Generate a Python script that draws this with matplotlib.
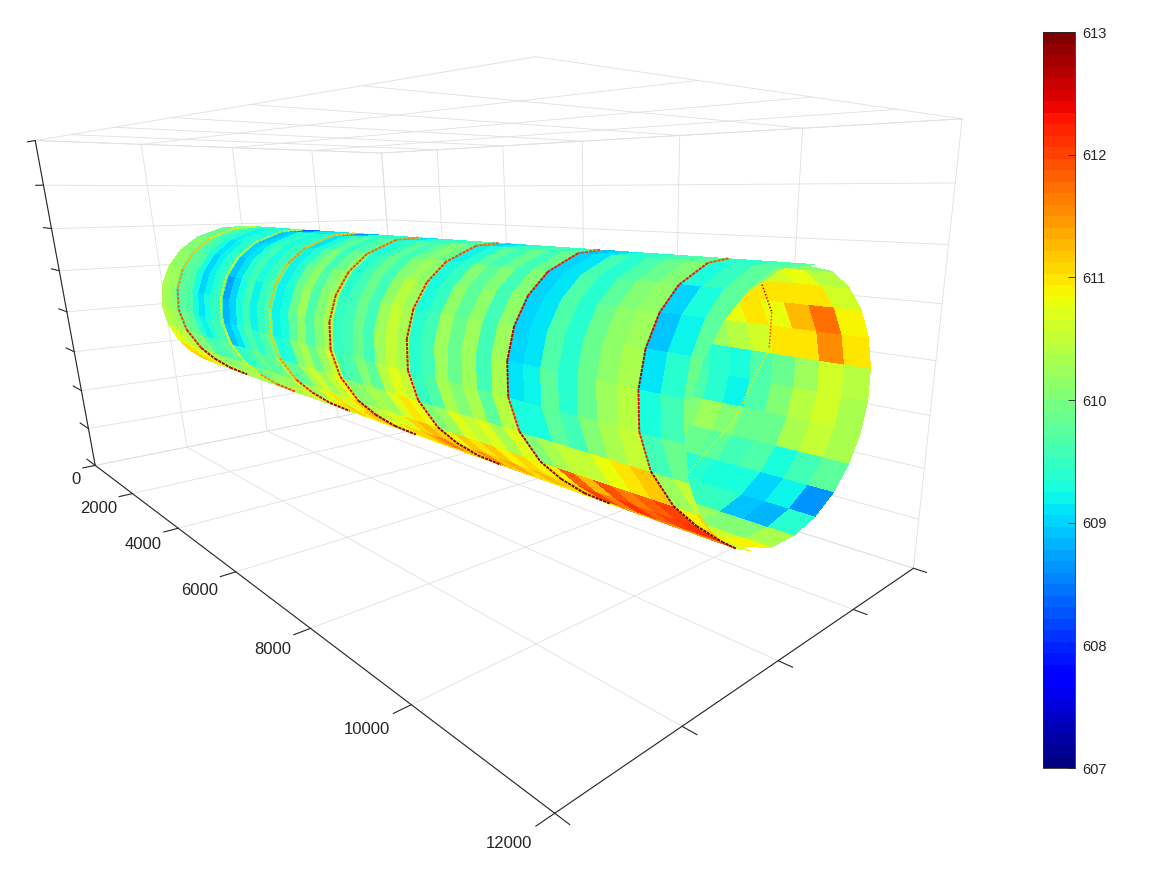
import numpy as np
import matplotlib
matplotlib.use('Agg')
import matplotlib.pyplot as plt
from matplotlib.cm import ScalarMappable
from matplotlib.colors import Normalize

W, H = 1156, 875
plt.rcParams['font.family'] = ['Liberation Sans', 'DejaVu Sans']

# axis ranges and ticks
x_ticks = [0, 2000, 4000, 6000, 8000, 10000, 12000]
y_ticks = [-4000, -2000, 0, 2000, 4000]
z_ticks = [-4000, -3000, -2000, -1000, 0, 1000, 2000, 3000, 4000]
cbar_ticks = [607, 608, 609, 610, 611, 612, 613]

# cylinder
radius = 1985
y_center = -80
z_center = -40

# outer face: rows are angles (deg), columns follow the helix (s = x - shift)
outer_theta = [80, 100, 120, 135, 150, 165, 180, 195, 210, 220, 230, 240, 250]
helix_shift = [-380, -300, -230, -180, -120, -60, 0, 90, 220, 360, 500, 650, 800]
s_edges = list(range(-500, 12501, 250))
outer_values = [
 [609.9,609.9,609.9,609.8,609.8, 609.6,609.5,609.4,609.4,609.3,609.4,609.4,609.3, 608.4,608.6,609.0,609.2,609.1,609.2,609.3, 608.6,608.9,609.3,609.5,609.4,609.5,609.5, 609.1,609.3,609.5,609.4,609.6,609.7,609.7, 609.0,609.2,609.5,609.5,609.7,609.5,609.7, 608.9,609.1,609.4,609.4,609.6,609.7,609.8, 609.4,609.5,609.7,609.8],
 [609.9,610.0,610.0,609.9,609.9, 609.7,609.6,609.5,609.4,609.2,609.3,609.4,609.3, 608.9,609.0,609.3,609.5,609.3,609.4,609.5, 609.1,609.3,609.6,609.8,609.5,609.7,609.8, 609.3,609.5,609.8,609.6,609.9,610.0,609.9, 609.2,609.4,609.8,609.6,609.9,609.6,609.9, 609.0,609.1,609.6,609.4,609.7,609.9,610.0, 609.3,609.5,609.8,610.0],
 [610.0,610.1,610.1,610.0,610.0, 609.8,609.7,609.6,609.3,609.1,609.2,609.4,609.4, 609.0,609.1,609.4,609.6,609.3,609.5,609.6, 609.2,609.4,609.8,610.0,609.6,609.9,610.1, 609.4,609.6,609.9,609.6,610.0,610.2,610.1, 609.3,609.5,610.0,609.8,610.0,609.6,610.0, 609.0,609.1,609.7,609.4,609.8,610.0,610.1, 609.0,609.3,609.8,610.0],
 [610.1,610.2,610.2,610.1,610.1, 609.8,609.8,609.7,609.3,609.0,609.2,609.4,609.5, 608.9,609.1,609.4,609.6,609.3,609.5,609.7, 609.2,609.4,609.9,610.1,609.7,610.0,610.2, 609.4,609.6,609.9,609.6,610.1,610.4,610.2, 609.3,609.5,610.1,609.8,610.1,609.6,610.1, 609.0,609.1,609.7,609.4,609.9,610.1,610.2, 608.9,609.2,609.8,610.0],
 [610.2,610.3,610.3,610.2,610.2, 609.8,609.8,609.7,609.3,609.0,609.2,609.4,609.5, 608.7,609.0,609.3,609.6,609.2,609.5,609.7, 609.2,609.3,609.9,610.2,609.7,610.0,610.3, 609.5,609.6,609.9,609.6,610.2,610.5,610.3, 609.4,609.6,610.2,609.9,610.2,609.6,610.2, 609.0,609.1,609.7,609.4,609.9,610.1,610.3, 609.1,609.4,609.9,610.1],
 [610.2,610.3,610.3,610.2,610.1, 609.7,609.8,609.7,609.3,609.1,609.3,609.5,609.4, 608.8,609.0,609.3,609.6,609.2,609.5,609.7, 609.2,609.3,609.8,610.1,609.7,610.0,610.3, 609.5,609.6,609.9,609.6,610.2,610.5,610.3, 609.4,609.6,610.2,609.9,610.2,609.6,610.3, 609.1,609.2,609.8,609.4,609.9,610.2,610.4, 609.3,609.6,610.0,610.2],
 [610.3,610.4,610.4,610.3,610.2, 609.9,609.9,609.8,609.4,609.2,609.4,609.6,609.6, 608.9,609.1,609.4,609.7,609.4,609.7,609.9, 609.3,609.4,610.0,610.3,609.9,610.2,610.6, 609.6,609.7,610.0,609.8,610.4,610.7,610.5, 609.5,609.7,610.3,610.0,610.3,609.8,610.4, 609.3,609.3,609.8,609.6,610.0,610.3,610.5, 609.6,609.9,610.2,610.3],
 [610.6,610.8,610.7,610.5,610.4, 610.0,610.0,610.0,609.7,609.6,609.7,609.8,609.9, 609.4,609.5,609.7,609.9,609.7,609.9,610.2, 609.8,609.9,610.3,610.6,610.2,610.5,610.8, 610.0,610.1,610.3,610.2,610.7,611.0,610.8, 610.0,610.2,610.7,610.5,610.7,610.3,610.7, 610.0,610.3,610.5,610.5,610.8,611.0,611.2, 610.2,610.5,610.7,610.7],
 [610.9,611.1,611.0,610.8,610.6, 610.3,610.3,610.3,610.1,610.0,610.1,610.2,610.2, 609.8,609.9,610.1,610.2,610.1,610.3,610.5, 610.2,610.3,610.7,611.0,610.6,610.9,611.2, 610.4,610.5,610.7,610.7,611.1,611.3,611.1, 610.8,611.2,611.0,611.2,610.9,611.1,610.9, 610.9,611.8,611.3,611.9,611.6,611.8,612.0, 610.9,611.1,611.1,610.9],
 [611.0,611.2,611.1,610.9,610.6, 610.3,610.4,610.4,610.3,610.2,610.3,610.4,610.3, 610.1,610.1,610.3,610.4,610.4,610.6,610.8, 610.5,610.6,611.0,611.2,610.9,611.2,611.4, 610.7,610.8,611.1,611.1,611.4,611.6,611.3, 611.1,611.5,611.2,611.4,611.1,611.3,611.1, 611.2,612.0,611.6,612.1,611.8,612.0,612.1, 611.2,611.3,611.2,611.0],
 [610.6,610.8,610.7,610.6,610.4, 610.2,610.2,610.3,610.2,610.2,610.2,610.3,610.3, 610.2,610.2,610.3,610.3,610.4,610.5,610.6, 610.5,610.6,610.9,611.0,610.8,611.0,611.1, 610.7,610.8,611.0,611.0,611.1,611.2,611.0, 611.0,611.3,611.0,611.1,610.9,611.0,610.9, 610.9,611.5,611.2,611.6,611.4,611.5,611.6, 611.1,611.1,611.0,610.8],
 [610.2,610.2,610.2,610.1,610.1, 610.0,610.0,610.0,610.0,610.0,610.0,610.0,610.0, 610.0,610.0,610.0,610.0,610.0,610.1,610.1, 610.1,610.1,610.2,610.2,610.1,610.2,610.2, 610.1,610.2,610.2,610.2,610.2,610.3,610.2, 610.2,610.3,610.2,610.3,610.2,610.2,610.2, 610.3,610.5,610.4,610.5,610.5,610.6,610.7, 610.6,610.5,610.3,610.1],
]

# inner face seen through the open end
inner_theta = [-125, -97.5, -82.5, -67.5, -52.5, -37.5, -22.5, -7.5, 7.5, 22.5, 37.5, 52.5, 67.5, 90]
inner_x = [9600, 9900, 10200, 10500, 10800, 11100, 11400, 11700, 12000]
inner_values = [
 [610.5,610.5,610.5,610.5,610.6,610.6,610.6,610.9],
 [610.1,610.1,610.1,610.1,610.2,610.0,610.0,610.3],
 [609.5,609.5,609.5,609.5,609.5,608.9,608.8,609.4],
 [609.4,609.4,609.4,609.3,609.3,609.0,609.2,608.6],
 [609.9,609.9,609.8,609.6,609.7,609.3,609.6,609.8],
 [610.0,610.2,610.0,609.9,609.9,610.3,610.5,610.3],
 [609.7,609.4,609.2,609.7,610.0,610.4,610.6,610.3],
 [609.6,609.4,609.3,609.7,609.9,610.2,610.6,610.4],
 [610.0,610.2,610.4,610.6,611.0,611.0,611.5,611.0],
 [610.6,610.6,610.8,611.0,610.8,611.3,611.7,610.9],
 [610.6,610.6,610.8,611.0,611.0,611.0,611.0,610.6],
 [610.4,610.4,610.5,610.6,610.6,610.6,610.8,610.4],
 [610.0,610.0,610.0,610.1,610.1,610.2,610.3,610.1],
]

# seams on the outer face (x where they cross 180 deg, colour value at each knot)
seam_x = [800, 2650, 4400, 6150, 7950, 9750, 11500]
seam_theta = [85, 100, 120, 135, 150, 165, 180, 195, 210, 220, 230, 240]
seam_shift = [-360, -300, -230, -180, -120, -60, 0, 90, 220, 360, 500, 650]
seam_levels = [
 [610.8,611.0,611.2,611.3,611.5,611.8,612.0,612.3,612.6,612.8,612.8,612.5],
 [610.5,610.5,610.6,610.6,610.6,610.7,610.7,610.8,611.0,611.5,612.0,612.0],
 [611.2,611.3,611.5,611.3,611.3,611.1,611.2,611.5,612.2,612.6,612.8,612.5],
 [611.6,611.8,612.0,612.2,612.3,612.5,612.3,612.4,612.8,612.9,612.9,612.5],
 [611.8,612.0,612.2,612.3,612.5,612.5,612.4,612.5,612.9,612.9,612.9,612.5],
 [612.0,612.3,612.4,612.5,612.7,612.7,612.3,612.7,612.9,613.0,613.0,612.7],
 [612.0,612.3,612.4,612.5,612.7,612.4,612.3,612.8,613.0,613.0,613.0,612.9],
]
# last seam where it runs on over the inner face
inner_seam_theta = [85, 60, 30, 10, -30, -70]
inner_seam_x = [11100, 11050, 10880, 10750, 10430, 10300]
inner_seam_levels = [612.6, 612.6, 612.0, 611.0, 610.6]

norm = Normalize(607, 613)
cmap = plt.get_cmap('jet', 64)

# camera: solved from where the box corners lie in the picture
corners = np.array([[0,-4,-4],[12,-4,-4],[12,4,-4],[0,-4,4],[12,-4,4],[12,4,4],[0,4,4]],float)
corner_px = np.array([[95,465],[556,813],[913,569],[35,141],[535,57],[962,118],[382,153]],float)
A = []
for (X,Y,Z),(u,v) in zip(corners,corner_px):
    A.append([X,Y,Z,1,0,0,0,0,-u*X,-u*Y,-u*Z,-u])
    A.append([0,0,0,0,X,Y,Z,1,-v*X,-v*Y,-v*Z,-v])
P = np.linalg.svd(np.array(A))[2][-1].reshape(3,4)
if P[2]@[6,0,0,1] < 0:
    P = -P
P = P@np.diag([1/1000,1/1000,1/1000,1])
k = (P[2]@[6000,0,0,1])/2
M = np.vstack([P[0],P[1],P[2]-[0,0,0,k],P[2]])

fig = plt.figure(figsize=(W/100,H/100),dpi=100)
ax = fig.add_axes([0,(H-W)/2/H,1,W/H],projection='3d',computed_zorder=False)
ax.set_proj_type('ortho')   # stops Line3D masking points, get_proj is replaced anyway
ax.get_proj = lambda: M
ax.viewLim.intervalx = (0,W)
ax.viewLim.intervaly = (H+(W-H)/2,-(W-H)/2)
ax.set_axis_off()

x0, x1 = x_ticks[0], x_ticks[-1]
y0, y1 = y_ticks[0], y_ticks[-1]
z0, z1 = z_ticks[0], z_ticks[-1]

def seg(a, b, **kw):
    ax.plot(*zip(a,b), **kw)

# grid on floor, ceiling and the two back walls
grid = dict(color='#e0e0e0', lw=0.6, zorder=1)
for x in x_ticks:
    seg((x,y0,z0),(x,y1,z0),**grid)
    seg((x,y0,z1),(x,y1,z1),**grid)
    seg((x,y1,z0),(x,y1,z1),**grid)
for y in y_ticks:
    seg((x0,y,z0),(x1,y,z0),**grid)
    seg((x0,y,z1),(x1,y,z1),**grid)
    seg((x0,y,z0),(x0,y,z1),**grid)
for z in z_ticks:
    seg((x0,y0,z),(x0,y1,z),**grid)
    seg((x0,y1,z),(x1,y1,z),**grid)

# outer face
th = np.radians(outer_theta)
X = np.clip(np.array(s_edges)[None,:]+np.array(helix_shift)[:,None],x0,x1).astype(float)
Y = y_center+radius*np.cos(th)[:,None]*np.ones(X.shape)
Z = z_center+radius*np.sin(th)[:,None]*np.ones(X.shape)

# inner face
th2 = np.radians(inner_theta)
X2 = np.array(inner_x,float)[None,:]*np.ones((len(th2),1))
Y2 = y_center+radius*np.cos(th2)[:,None]*np.ones(X2.shape)
Z2 = z_center+radius*np.sin(th2)[:,None]*np.ones(X2.shape)

ax.plot_surface(X2,Y2,Z2,facecolors=cmap(norm(np.array(inner_values))),rstride=1,cstride=1,
                shade=False,linewidth=0,antialiased=False,zorder=2)
ax.plot_surface(X,Y,Z,facecolors=cmap(norm(np.array(outer_values))),rstride=1,cstride=1,
                shade=False,linewidth=0,antialiased=False,zorder=3)

# seams
dash = (0,(1.6,0.5))
st = np.radians(seam_theta)
for sx, levels in zip(seam_x, seam_levels):
    xs = np.clip(sx+np.array(seam_shift),x0,x1)
    ys = y_center+radius*np.cos(st)
    zs = z_center+radius*np.sin(st)
    for i in range(len(xs)-1):
        ax.plot(xs[i:i+2],ys[i:i+2],zs[i:i+2],color=cmap(norm(levels[i])),lw=1.4,ls=dash,zorder=4)
st = np.radians(inner_seam_theta)
ys = y_center+radius*np.cos(st)
zs = z_center+radius*np.sin(st)
for i in range(len(st)-1):
    ax.plot(inner_seam_x[i:i+2],ys[i:i+2],zs[i:i+2],color=cmap(norm(inner_seam_levels[i])),lw=1.1,ls=(0,(1,1.2)),zorder=2.5)

# axes and ticks
dark = '#262626'
line = dict(color=dark, lw=0.8, zorder=5)
seg((x0,y0,z0),(x1,y0,z0),**line)
seg((x1,y0,z0),(x1,y1,z0),**line)
seg((x0,y0,z0),(x0,y0,z1),**line)
for x in x_ticks:
    seg((x,y0,z0),(x,y0-250,z0),**line)
    ax.text(x,y0-300,z0-100,str(x),ha='right',va='top',fontsize=12,color=dark)
for y in y_ticks:
    seg((x1,y,z0),(x1+170,y,z0),**line)
for z in z_ticks:
    seg((x0,y0,z),(x0-500,y0,z),**line)

# colour bar
cax = fig.add_axes([1043/W,(H-768)/H,32/W,736/H])
cb = fig.colorbar(ScalarMappable(norm=norm,cmap=cmap),cax=cax,ticks=cbar_ticks)
cb.outline.set_linewidth(0.6)
cb.outline.set_edgecolor(dark)
cax.tick_params(direction='in',length=5,width=0.6,color=dark,labelcolor=dark,labelsize=10.5,pad=5)

fig.savefig('out.png',dpi=100)
